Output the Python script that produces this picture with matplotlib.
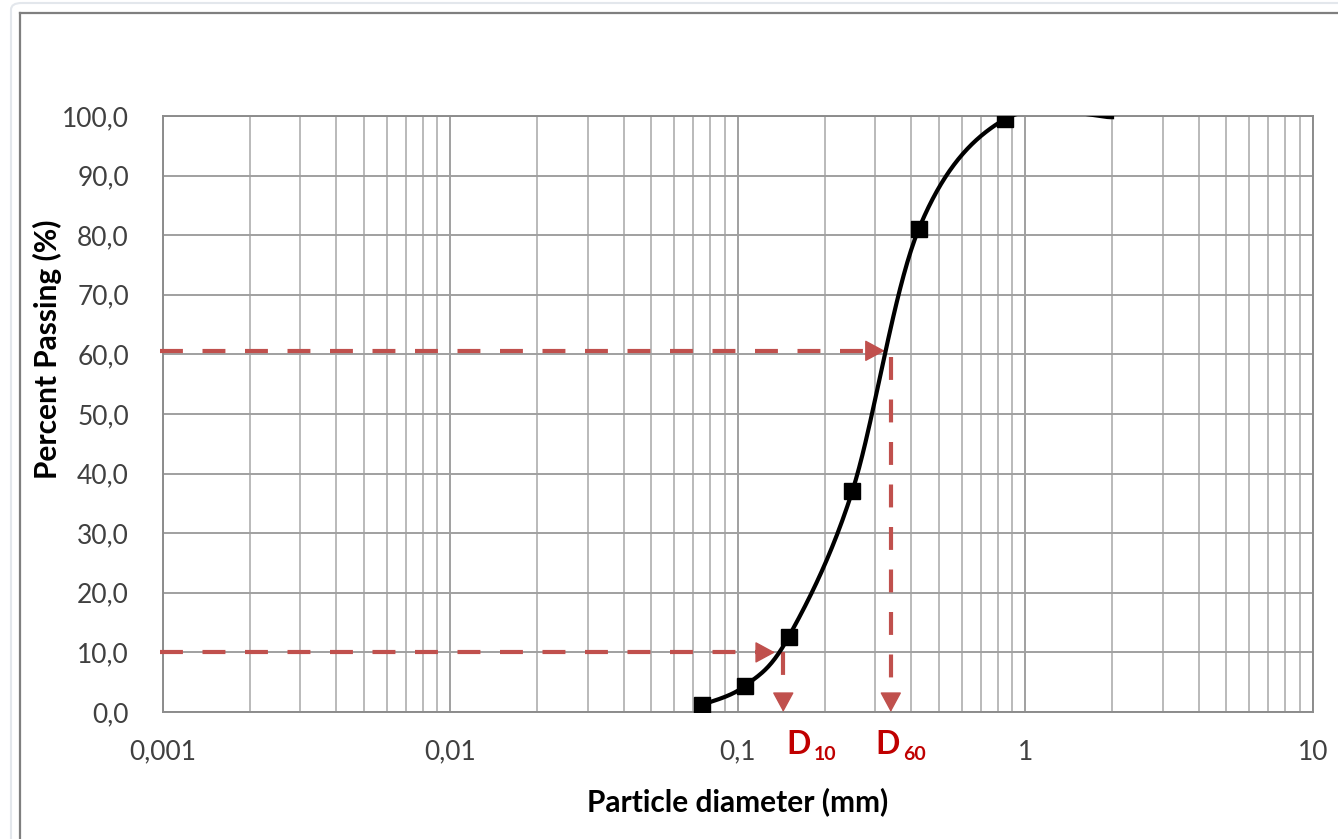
import numpy as np
import matplotlib
matplotlib.use("Agg")
import matplotlib.pyplot as plt
from matplotlib.lines import Line2D
from matplotlib.patches import FancyBboxPatch
from matplotlib.ticker import FixedLocator, NullFormatter, LogLocator

# ---- data ----
diameter_mm = [0.075, 0.106, 0.15, 0.25, 0.425, 0.85, 2.0]
percent_passing = [1.2, 4.4, 12.6, 37.1, 81.0, 99.5, 99.8]
marker_count = 6  # the last point carries no marker
d10_value = 0.1437
d10_arrow_tip = 0.1345
d60_value = 0.340
d60_arrow_tip = 0.324
level_10 = 10.0
level_60 = 60.6
x_ticks = [0.001, 0.01, 0.1, 1, 10]
x_tick_labels = ["0,001", "0,01", "0,1", "1", "10"]
y_ticks = list(range(0, 101, 10))
y_tick_labels = [f"{v:.1f}".replace(".", ",") for v in y_ticks]

plt.rcParams['font.family'] = ['Lato', 'DejaVu Sans']

W, H = 1338, 839
fig = plt.figure(figsize=(W / 100, H / 100), dpi=100)
fig.patch.set_facecolor("white")

# outer decorative frames (screenshot borders)
outer = FancyBboxPatch((11 / W, -0.02), (W + 40) / W, (H - 3) / H + 0.02,
                       boxstyle="round,pad=0,rounding_size=0.008",
                       transform=fig.transFigure, fill=False,
                       edgecolor="#e3e7ec", lw=1.5)
fig.add_artist(outer)
fig.add_artist(Line2D([20 / W, 20 / W], [0, 1 - 13 / H], transform=fig.transFigure,
                      color="#7f7f7f", lw=1.6))
fig.add_artist(Line2D([20 / W, 1], [1 - 13 / H, 1 - 13 / H], transform=fig.transFigure,
                      color="#7f7f7f", lw=1.6))

L, R, T, B = 163, 1313, 116, 712
ax = fig.add_axes([L / W, 1 - B / H, (R - L) / W, (B - T) / H])
ax.set_xscale("log")
ax.set_xlim(0.001, 10)
ax.set_ylim(0, 100)

ax.xaxis.set_major_locator(FixedLocator(x_ticks))
ax.set_xticklabels(x_tick_labels)
ax.xaxis.set_minor_locator(LogLocator(base=10, subs=np.arange(2, 10)))
ax.xaxis.set_minor_formatter(NullFormatter())
ax.set_yticks(y_ticks)
ax.set_yticklabels(y_tick_labels)

ax.grid(True, which="major", color="#a0a0a0", lw=1.4)
ax.grid(True, which="minor", axis="x", color="#b4b4b4", lw=1.3)
ax.set_axisbelow(True)
ax.tick_params(which="both", length=0)
ax.tick_params(axis="y", pad=24.5, labelsize=19, labelcolor="#404040")
ax.tick_params(axis="x", pad=20, labelsize=19, labelcolor="#404040")
for s in ax.spines.values():
    s.set_color("#8c8c8c")
    s.set_linewidth(1.4)

# ---- smoothed curve (Excel-like Catmull-Rom Bezier in log-x space) ----
lx = np.log10(diameter_mm)
yy = np.array(percent_passing, dtype=float)
P = np.column_stack([lx, yy])
n = len(P)
curve = []
t = np.linspace(0, 1, 40)
for i in range(n - 1):
    p0 = P[max(i - 1, 0)]
    p1 = P[i]
    p2 = P[i + 1]
    p3 = P[min(i + 2, n - 1)]
    c1 = p1 + (p2 - p0) / 6
    c2 = p2 - (p3 - p1) / 6
    seg = ((1 - t) ** 3)[:, None] * p1 + (3 * (1 - t) ** 2 * t)[:, None] * c1 \
        + (3 * (1 - t) * t ** 2)[:, None] * c2 + (t ** 3)[:, None] * p2
    curve.append(seg)
curve = np.vstack(curve)
ax.plot(10 ** curve[:, 0], curve[:, 1], color="black", lw=3.0, zorder=4)
ax.plot(diameter_mm[:marker_count], percent_passing[:marker_count], ls="none",
        marker="s", ms=11, color="black", zorder=5)

# ---- D10 / D60 construction lines ----
red = "#c0504d"
dash_kw = dict(color=red, lw=3, dashes=[5.5, 4.7], zorder=3, solid_capstyle="butt")
head_kw = dict(arrowstyle="-|>,head_length=1.2,head_width=0.65", color=red, lw=1,
               shrinkA=0, shrinkB=0, mutation_scale=10.5)

def h_arrow(y, tip):
    ax.plot([0.00098, tip * 0.93], [y, y], clip_on=False, **dash_kw)
    ax.annotate("", xy=(tip, y), xytext=(-14, 0), textcoords="offset pixels",
                arrowprops=head_kw, zorder=3)

def v_arrow(x, y0):
    ax.plot([x, x], [y0, 4.0], **dash_kw)
    ax.annotate("", xy=(x, 0), xytext=(0, 17), textcoords="offset pixels",
                arrowprops=head_kw, zorder=3, annotation_clip=False)

h_arrow(level_60, d60_arrow_tip)
v_arrow(d60_value, level_60 - 1.0)
h_arrow(level_10, d10_arrow_tip)
v_arrow(d10_value, level_10)

lab_red = "#c00000"
for xv, dx, sub in [(d10_value, 3, "10"), (d60_value, -15, "60")]:
    ax.annotate("D", xy=(xv, 0), xytext=(dx, -42), textcoords="offset pixels",
                fontsize=23, fontweight="bold", color=lab_red, ha="left", va="baseline",
                annotation_clip=False)
    ax.annotate(sub, xy=(xv, 0), xytext=(dx + 27, -48), textcoords="offset pixels",
                fontsize=14, fontweight="bold", color=lab_red, ha="left", va="baseline",
                annotation_clip=False)

fig.text(738 / W, 1 - 802 / H, "Particle diameter (mm)", ha="center", va="center",
         fontsize=21.5, fontweight="bold", color="black")
fig.text(47 / W, 1 - 349 / H, "Percent Passing (%)", ha="center", va="center",
         rotation=90, fontsize=21.5, fontweight="bold", color="black")

fig.savefig("out.png", dpi=100)
